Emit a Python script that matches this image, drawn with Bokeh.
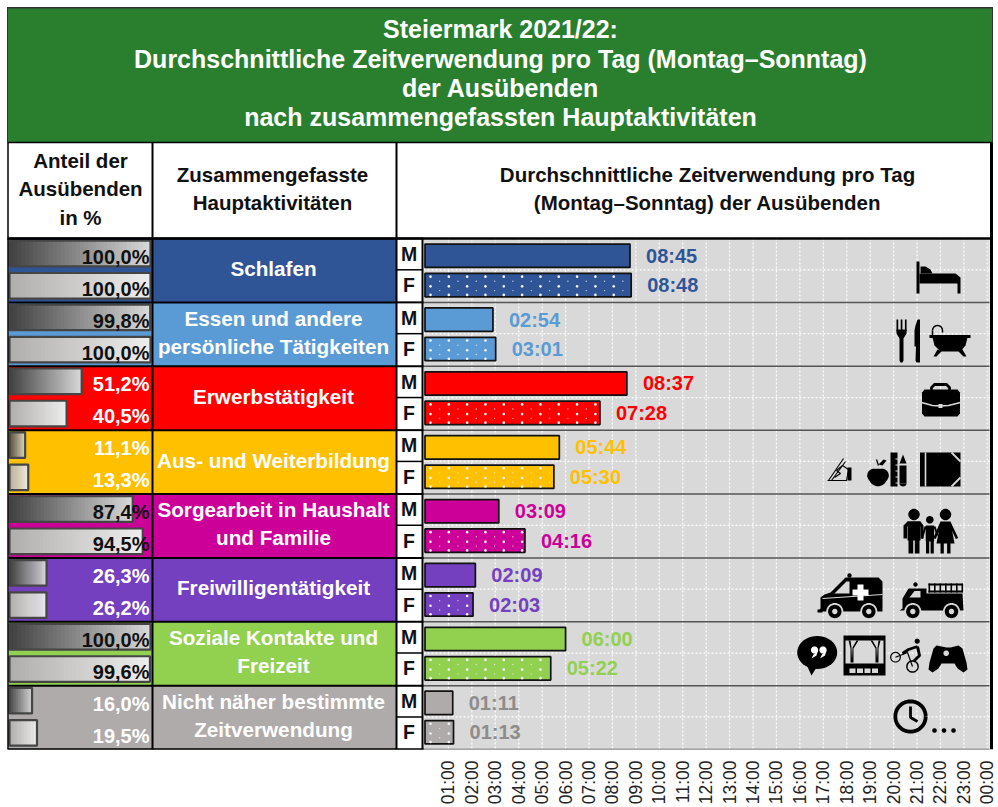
import math
from bokeh.plotting import figure
from bokeh.models import Range1d, FixedTicker, LinearAxis
from bokeh.core.properties import value
from bokeh.embed import file_html
from bokeh.resources import INLINE

# ------------------------------------------------------------------ data
title_lines = ["Steiermark 2021/22:",
               "Durchschnittliche Zeitverwendung pro Tag (Montag–Sonntag)",
               "der Ausübenden",
               "nach zusammengefassten Hauptaktivitäten"]
categories = [["Schlafen"],
              ["Essen und andere", "persönliche Tätigkeiten"],
              ["Erwerbstätigkeit"],
              ["Aus- und Weiterbildung"],
              ["Sorgearbeit in Haushalt", "und Familie"],
              ["Freiwilligentätigkeit"],
              ["Soziale Kontakte und", "Freizeit"],
              ["Nicht näher bestimmte", "Zeitverwendung"]]
colors = ["#2F5597", "#5B9BD5", "#FF0000", "#FFC000", "#CC0099", "#7540C0", "#92D050", "#AFABAB"]
time_colors = ["#2F5597", "#5B9BD5", "#FF0000", "#FFC000", "#CC0099", "#7540C0", "#92D050", "#8F8C8C"]
share_m = [100.0, 99.8, 51.2, 11.1, 87.4, 26.3, 100.0, 16.0]
share_f = [100.0, 100.0, 40.5, 13.3, 94.5, 26.2, 99.6, 19.5]
time_m = ["08:45", "02:54", "08:37", "05:44", "03:09", "02:09", "06:00", "01:11"]
time_f = ["08:48", "03:01", "07:28", "05:30", "04:16", "02:03", "05:22", "01:13"]
hour_ticks = list(range(1, 25))
hour_labels = ["%02d:00" % (h % 24) for h in hour_ticks]

def to_hours(s):
    h, m = s.split(":")
    return int(h) + int(m) / 60

# ------------------------------------------------------------------ layout
W, FRAME_H = 998, 749
ROW0 = 238.0
ROW_H = 63.875
H0 = 424.5
PPH = 23.43
PCT0 = 9.0
PPP = 1.41
FONT = value("Liberation Sans")
BG = "#D9D9D9"

p = figure(width=W, height=807, output_backend="svg", toolbar_location=None,
           x_range=Range1d(-H0 / PPH, (W - H0) / PPH),
           y_range=Range1d((FRAME_H - ROW0) / ROW_H, -ROW0 / ROW_H),
           min_border_left=0, min_border_right=0, min_border_top=0, min_border_bottom=58,
           outline_line_color=None, background_fill_color="white", border_fill_color="white",
           x_axis_location=None, y_axis_location=None)
p.grid.visible = False
p.extra_x_ranges = {"px": Range1d(0, W), "pct": Range1d(-PCT0 / PPP, (W - PCT0) / PPP)}
p.extra_y_ranges = {"px": Range1d(FRAME_H, 0)}

axis = LinearAxis(ticker=FixedTicker(ticks=hour_ticks),
                  major_label_overrides={t: l for t, l in zip(hour_ticks, hour_labels)},
                  major_label_orientation=math.pi / 2,
                  major_label_text_font="Liberation Sans", major_label_text_font_size="17.5px",
                  major_label_text_color="#222222", major_label_standoff=5,
                  major_tick_line_color=None, minor_tick_line_color=None, axis_line_color=None)
p.add_layout(axis, "below")

PX = dict(x_range_name="px", y_range_name="px")

def rect(x0, y0, x1, y1, c="black"):
    p.quad(left=[x0], right=[x1], top=[y0], bottom=[y1], fill_color=c, line_color=None, **PX)
def poly(pts, c="black"):
    p.patch([a for a, b in pts], [b for a, b in pts], fill_color=c, line_color=None, **PX)
def pline(pts, c="black", w=1.5, dash="solid"):
    p.line([a for a, b in pts], [b for a, b in pts], line_color=c, line_width=w, line_dash=dash, **PX)
def circ_pts(cx, cy, rx, ry=None, a0=0, a1=360, n=40):
    ry = rx if ry is None else ry
    return [(cx + rx * math.cos(math.radians(a0 + (a1 - a0) * k / n)),
             cy + ry * math.sin(math.radians(a0 + (a1 - a0) * k / n))) for k in range(n + 1)]
def circ(cx, cy, r, c="black"):
    poly(circ_pts(cx, cy, r), c)
def label(x, y, s, size="20px", c="black", align="center", bold=True):
    p.text([x], [y], text=[s], text_font=FONT, text_font_size=value(size), text_color=c,
           text_font_style="bold" if bold else "normal", text_align=align, text_baseline="middle", **PX)

# ------------------------------------------------------------------ header
rect(7, 7, 992, 142, "#2A7F2E")
for s, y in zip(title_lines, [28.7, 58.2, 87.2, 116.2]):
    label(500, y, s, "25px", "white")
for s, y in zip(["Anteil der", "Ausübenden", "in %"], [160, 188, 216.5]):
    label(80, y, s, "20.5px", "#111111")
for s, y in zip(["Zusammengefasste", "Hauptaktivitäten"], [174, 202]):
    label(272, y, s, "20.5px", "#111111")
for s, y in zip(["Durchschnittliche Zeitverwendung pro Tag", "(Montag–Sonntag) der Ausübenden"], [174, 202]):
    label(707, y, s, "20.5px", "#111111")

# ------------------------------------------------------------------ rows
n = len(categories)
rows = list(range(n))
p.quad(left=[8] * n, right=[396] * n, top=rows, bottom=[r + 1 for r in rows],
       fill_color=colors, line_color=None, x_range_name="px")

# grey time panel
p.quad(left=[423], right=[989], top=[0], bottom=[n], fill_color=BG, line_color=None, x_range_name="px")
p.segment(x0=hour_ticks, x1=hour_ticks, y0=[0] * 24, y1=[n] * 24, line_color="white", line_width=1.2, line_dash="2 2")
p.segment(x0=[423] * n, x1=[989] * n, y0=[r + 0.49 for r in rows], y1=[r + 0.49 for r in rows],
          line_color="white", line_width=1.2, line_dash="2 2", x_range_name="px")
p.segment(x0=[423] * n, x1=[989] * n, y0=[r + 1 for r in rows], y1=[r + 1 for r in rows],
          line_color="#555555", line_width=1.5, x_range_name="px")

# M / F cells
p.quad(left=[396] * n, right=[422] * n, top=rows, bottom=[r + 1 for r in rows],
       fill_color="white", line_color=None, x_range_name="px")

# share bars with horizontal gradient
def mix(a, b, t):
    return "#%02x%02x%02x" % tuple(round(a[k] + (b[k] - a[k]) * t) for k in range(3))
STEPS = 36
def share_bars(shares, y_off, c0, c1):
    l, r, t, b, c = [], [], [], [], []
    for i, s in enumerate(shares):
        for k in range(STEPS):
            l.append(s * k / STEPS)
            r.append(min(s, s * (k + 1.5) / STEPS))
            t.append(i + y_off - 0.2)
            b.append(i + y_off + 0.2)
            c.append(mix(c0, c1, (k + 0.5) / STEPS))
    p.quad(left=l, right=r, top=t, bottom=b, fill_color=c, line_color=None, x_range_name="pct")
    p.quad(left=[0] * n, right=shares, top=[i + y_off - 0.2 for i in rows], bottom=[i + y_off + 0.2 for i in rows],
           fill_color=None, line_color="#454545", line_width=2.2, x_range_name="pct")
share_bars(share_m, 0.235, (0x40, 0x40, 0x40), (0xD9, 0xD9, 0xD9))
share_bars(share_f, 0.74, (0xB0, 0xAE, 0xAC), (0xEE, 0xEE, 0xEE))

def fmt(v):
    return ("%.1f%%" % v).replace(".", ",")
for i in rows:
    for s, off in ((share_m[i], 0.285), (share_f[i], 0.785)):
        dark = s > 80
        p.text([149], [i + off], text=[fmt(s)], text_font=FONT, text_font_size=value("20px"),
               text_font_style="bold", text_align="right", text_baseline="middle",
               text_color="#111111" if dark else "white", x_range_name="px")

# category labels
for i, lines in enumerate(categories):
    offs = [0.47] if len(lines) == 1 else [0.25, 0.685]
    for s, off in zip(lines, offs):
        p.text([273], [i + off], text=[s], text_font=FONT, text_font_size=value("20.7px"),
               text_font_style="bold", text_align="center", text_baseline="middle",
               text_color="white", x_range_name="px")

# M/F letters
for i in rows:
    for s, off in (("M", 0.24), ("F", 0.73)):
        p.text([408.5], [i + off], text=[s], text_font=FONT, text_font_size=value("19.5px"),
               text_font_style="bold", text_align="center", text_baseline="middle",
               text_color="#111111", x_range_name="px")

# time bars
hm = [to_hours(t) for t in time_m]
hf = [to_hours(t) for t in time_f]
ym = [i + 0.27 for i in rows]
yf = [i + 0.73 for i in rows]
p.hbar(y=ym, left=0, right=hm, height=0.365, fill_color=colors, line_color="#111111", line_width=1.7)
p.hbar(y=yf, left=0, right=hf, height=0.365, fill_color=colors, line_color="#111111", line_width=1.7)

# dot pattern of the F bars, limited to each bar's length
dx, dy, sx, sy = [], [], [], []
for i, h in enumerate(hf):
    k = 0
    while 0.235 + k * 0.782 < h - 0.08:
        for off in (-0.133, 0.019, 0.153):
            dx.append(0.235 + k * 0.782)
            dy.append(yf[i] + off)
        if 0.625 + k * 0.782 < h - 0.08:
            for off in (-0.06, 0.086):
                sx.append(0.625 + k * 0.782)
                sy.append(yf[i] + off)
        k += 1
p.scatter(dx, dy, size=2.6, marker="circle", fill_color="#F4F4FA", line_color=None)
p.scatter(sx, sy, size=1.4, marker="circle", fill_color="#F4F4FA", fill_alpha=0.75, line_color=None)

# time labels
for hs, ys, ts in ((hm, ym, time_m), (hf, yf, time_f)):
    p.text(hs, ys, text=ts, text_font=FONT, text_font_size=value("20px"), text_font_style="bold",
           text_color=time_colors, text_align="left", text_baseline="middle", x_offset=16)

# ------------------------------------------------------------------ table rules
p.segment(x0=[8] * (n + 1), x1=[396] * (n + 1), y0=list(range(n + 1)), y1=list(range(n + 1)),
          line_color="black", line_width=2, x_range_name="px")
p.segment(x0=[396] * n, x1=[422] * n, y0=[r + 0.49 for r in rows], y1=[r + 0.49 for r in rows],
          line_color="black", line_width=1.5, x_range_name="px")
p.segment(x0=[396] * (n + 1), x1=[423] * (n + 1), y0=list(range(n + 1)), y1=list(range(n + 1)),
          line_color="black", line_width=2, x_range_name="px")
pline([(7, 238), (992, 238)], "black", 2.5)
pline([(7, 142), (992, 142)], "black", 1.5)
pline([(7.5, 142), (7.5, 749)], "black", 1.5)
rect(7, 6.5, 992, 8, "#333333")
rect(6.5, 6.5, 7.5, 142, "#333333")
rect(991.5, 6.5, 992.5, 142, "#333333")
pline([(152, 142), (152, 749)], "black", 2)
pline([(396, 142), (396, 749)], "black", 2)
pline([(422, 238), (422, 749)], "black", 2)
pline([(991, 142), (991, 749)], "black", 3)
pline([(7, 749), (423, 749)], "black", 2)

# ------------------------------------------------------------------ icons
# bed
rect(916, 261, 919, 293)
poly([(919, 273), (955, 273), (960, 277), (960, 293), (957, 293), (957, 283), (919, 283)])
poly([(920, 266), (925, 266), (930, 269), (932, 273), (920, 273)])
# fork + knife
for a in (896, 900.2, 904.4):
    rect(a, 319, a + 1.7, 331)
poly([(896, 329), (906, 329), (906, 333), (903, 338), (903, 360), (902, 362), (900, 362), (899, 360), (899, 338), (896, 333)])
poly([(915, 325), (917, 319), (919.5, 319), (919.5, 362), (916, 362), (915, 360), (915.5, 346), (914, 346), (914, 330)])
# tub
rect(929, 334.5, 970, 337.5)
poly([(932, 337), (967, 337), (965, 345), (960, 351), (940, 351), (934, 345)])
poly([(937, 349), (941, 351), (936, 356), (933, 356)])
poly([(962, 349), (958, 351), (963, 356), (966, 356)])
pline(circ_pts(937, 330, 5, 5, 180, 360, 14) + [(942, 332)], "black", 1.5)
pline([(932, 330), (932, 334.5)], "black", 1.5)
# briefcase
pline([(931, 391), (931, 387), (934, 384), (946, 384), (949, 387), (949, 391)], "black", 2.8)
poly([(924, 389), (957, 389), (959.5, 392), (959.5, 413), (957, 416), (924, 416), (921.5, 413), (921.5, 392)])
pline([(921, 402), (932, 405), (940, 405.5), (948, 405), (960, 402)], BG, 1.3)
rect(938, 403.5, 942, 407.5, BG)
# writing hand
pline([(828, 480), (843, 458)], "black", 1.1)
pline([(831, 480), (845, 461)], "black", 1.1)
pline([(827, 480), (846, 480), (848, 469), (842, 465), (836, 470), (840, 473), (834, 477)], "black", 1.1)
rect(847, 467, 851, 480)
# apple
circ(873.5, 475, 6.8)
circ(881.5, 475, 6.8)
poly(circ_pts(877.5, 477, 9, 8.8))
pline([(878, 465), (876, 459)], "black", 1.3)
poly([(878, 464), (883, 459), (886, 460), (882, 465)])
# ruler + pencil
rect(890, 452, 897, 486)
for yy in (458, 464, 470, 476, 482):
    rect(895, yy, 897.5, yy + 1, BG)
poly([(902.5, 454), (906, 463), (899, 463)])
rect(899, 465, 906, 483)
poly(circ_pts(902.5, 483, 3.5, 3, 0, 180, 10))
# book
rect(919.5, 452, 960, 486)
pline([(925, 452), (925, 486)], BG, 1.6)
pline([(951, 452), (960, 461)], BG, 1.8)
pline([(951, 486), (960, 477)], BG, 1.8)
# family
circ(913.5, 514, 5.7)
rect(907, 521, 920, 540)
poly([(903, 538), (903, 525), (907, 521), (920, 521), (923, 525), (923, 538), (920, 538), (920, 526), (906.5, 526), (906.5, 538)])
rect(908, 539, 912.7, 553)
rect(914.3, 539, 919, 553)
circ(929.3, 519.3, 3.8)
rect(925.2, 525, 933.6, 541)
rect(925.5, 540, 928.7, 553)
rect(930.1, 540, 933.3, 553)
pline([(925, 526), (921.5, 538)], "black", 2)
pline([(934, 526), (937, 535)], "black", 2)
circ(945, 514, 5.7)
poly([(940, 521), (950, 521), (954, 543), (936, 543)])
pline([(941, 522), (934, 538)], "black", 2.6)
pline([(949, 522), (956.5, 538)], "black", 2.6)
rect(940, 542, 943.3, 553)
rect(946.6, 542, 950, 553)
# ambulance
poly([(817, 611), (820, 608), (820, 597), (824, 594), (830, 592), (845, 577), (878, 577), (882, 581), (882, 611)])
circ(849, 575, 2.2)
poly([(834, 593), (846, 581), (849, 581), (849, 593)], BG)
pline([(822, 598), (882, 594)], BG, 1)
rect(852, 589, 868, 595, "white")
rect(857, 584, 863, 600, "white")
for cx in (834.3, 868.3):
    circ(cx, 611, 8.5, BG)
    circ(cx, 611, 6.7)
    circ(cx, 611, 2.7, BG)
rect(817, 609, 822, 612)
# fire truck
poly([(899, 610), (902, 608), (902, 598), (908, 588), (926, 588), (926, 593), (962, 593), (963, 610)])
circ(915, 584, 2.2)
poly([(909, 597), (914, 590.5), (920, 590.5), (920, 597)], BG)
rect(928, 583, 962, 585)
rect(928, 590, 962, 592)
for k in range(7):
    rect(928 + k * 5.5, 583, 929.6 + k * 5.5, 592)
for cx in (912.3, 951):
    circ(cx, 611, 8.5, BG)
    circ(cx, 611, 6.7)
    circ(cx, 611, 2.7, BG)
# speech bubble
poly(circ_pts(816.7, 652, 20, 16.5))
poly([(805, 662), (816, 667), (811, 675)])
circ(814, 649.5, 3.6, "white")
circ(822.5, 649.5, 3.6, "white")
poly([(817.5, 650), (816, 655), (811, 658), (813, 654)], "white")
poly([(826, 650), (824.5, 655), (819.5, 658), (821.5, 654)], "white")
# theatre
rect(843, 635, 885, 675)
rect(845, 640, 883, 663, BG)
poly([(848, 640), (858, 640), (853, 648), (853, 662), (850, 662), (850, 648)])
poly([(880, 640), (870, 640), (875, 648), (875, 662), (878, 662), (878, 648)])
poly([(850, 640), (856, 640), (852, 647), (851.5, 660), (851, 647)], BG)
poly([(878, 640), (872, 640), (876, 647), (876.5, 660), (877, 647)], BG)
for k in range(4):
    rect(849 + k * 7.5, 668, 855 + k * 7.5, 672.5, BG)
# cyclist
pline(circ_pts(895, 656.7, 4.8), "black", 1.2)
pline(circ_pts(912, 666, 5.6), "black", 1.5)
circ(916.7, 640.7, 2.6)
pline([(895, 656.7), (907, 652), (912, 666)], "black", 1.2)
pline([(902, 653), (908, 649), (917, 646)], "black", 2.8)
pline([(917, 646), (919, 655), (913, 661)], "black", 3)
# gamepad
poly([(936, 645), (946, 647), (950, 647), (958, 645), (962, 648), (966, 662), (967, 669), (963, 672), (957, 668), (954, 663), (941, 663), (938, 668), (932, 672), (928, 669), (929, 662), (933, 648)])
circ(945.7, 652.7, 2.8, BG)
# clock
pline(circ_pts(910, 716, 15.2), "black", 3.8)
pline([(910, 706), (910, 717), (917, 721)], "black", 2.8)
for a in (934, 943.5, 953):
    circ(a, 730, 2.3)

open("out.html", "w").write(file_html(p, INLINE))
